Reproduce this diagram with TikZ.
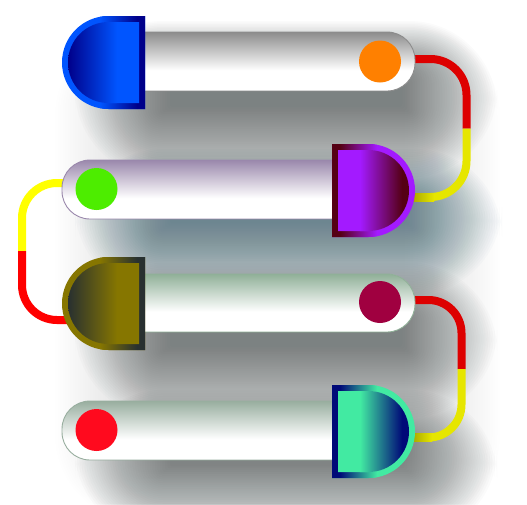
\documentclass[tikz,border=0pt]{standalone}
\definecolor{shA}{RGB}{72,82,82}
\definecolor{shB}{RGB}{40,88,104}
\definecolor{barA}{RGB}{140,140,140}
\definecolor{barB}{RGB}{154,136,172}
\definecolor{barC}{RGB}{144,176,152}
\definecolor{barD}{RGB}{152,174,159}
\definecolor{dBlueF}{RGB}{0,85,255}
\definecolor{dBlueC}{RGB}{0,0,138}
\definecolor{dPurF}{RGB}{163,26,255}
\definecolor{dPurC}{RGB}{85,0,20}
\definecolor{dOliF}{RGB}{134,118,0}
\definecolor{dOliC}{RGB}{40,48,48}
\definecolor{dTeaF}{RGB}{66,234,162}
\definecolor{dTeaC}{RGB}{0,10,120}
\definecolor{lnRedA}{RGB}{221,0,0}
\definecolor{lnYelA}{RGB}{230,230,0}
\definecolor{lnOli}{RGB}{170,170,0}
\definecolor{lnRedB}{RGB}{255,0,0}
\definecolor{lnYelB}{RGB}{255,255,0}
\definecolor{cOrange}{RGB}{255,128,0}
\definecolor{cGreen}{RGB}{77,237,0}
\definecolor{cMaroon}{RGB}{160,0,64}
\definecolor{cRed}{RGB}{255,10,30}
\newcommand{\myrowshadow}[6]{%
  \foreach \r in {-25,-22.5,...,70}{%
    \fill[#5, opacity=#6, rounded corners={max(2,\r+18)}] ({#1-\r},{#2-0.6*\r}) rectangle ({#3+\r},{#4+0.75*\r});
  }}
\newcommand{\mybar}[5]{%
  \begin{scope}
    \clip[rounded corners=28] (#1,#2) rectangle (#3,#4);
    \fill[white] (#1,#2) rectangle (#3,#4);
    \shade[top color=#5, bottom color=white] (#1,#2) rectangle (#3,{#2+0.65*(#4-#2)});
  \end{scope}
  \draw[#5, line width=0.9, rounded corners=28] (#1,#2) rectangle (#3,#4);}
\tikzset{
  link/.style={line width=8},
  dot/.style={circle, minimum size=42, inner sep=0pt, draw=none}
}
\begin{document}
\begin{tikzpicture}[x=1pt,y=-1pt]
\useasboundingbox (0,0) rectangle (527,504);
\fill[white] (0,0) rectangle (527,504);
% soft shadows
\myrowshadow{125}{70}{430}{470}{shA}{0.005}
\myrowshadow{145}{63}{427}{125}{shA}{0.019}
\myrowshadow{145}{191}{432}{242}{shB}{0.019}
\myrowshadow{145}{305}{427}{365}{shA}{0.019}
\myrowshadow{145}{432}{427}{485}{shA}{0.019}
% connector coordinates
\coordinate (p1s) at (405,59);
\coordinate (p1a) at (466.5,59);
\coordinate (p1m) at (466.5,128.5);
\coordinate (p1b) at (466.5,197);
\coordinate (p1e) at (405,197);
\coordinate (p2s) at (72,183);
\coordinate (p2a) at (22,183);
\coordinate (p2m) at (22,251);
\coordinate (p2b) at (22,320);
\coordinate (p2e) at (75,320);
\coordinate (p3s) at (405,300);
\coordinate (p3a) at (461.5,300);
\coordinate (p3m) at (461.5,369);
\coordinate (p3b) at (461.5,437.5);
\coordinate (p3e) at (405,437.5);
\draw[link, lnRedA, rounded corners=36] (p1s) -- (p1a) -- (p1m);
\draw[link, lnYelA, rounded corners=36] (p1m) -- (p1b) -- (p1e);
\shade[left color=lnOli, right color=lnYelA] (413,193) rectangle (434,201);
\draw[link, lnYelB, rounded corners=35] (p2s) -- (p2a) -- (p2m);
\draw[link, lnRedB, rounded corners=35] (p2m) -- (p2b) -- (p2e);
\draw[link, lnRedA, rounded corners=33] (p3s) -- (p3a) -- (p3m);
\draw[link, lnYelA, rounded corners=33] (p3m) -- (p3b) -- (p3e);
\shade[left color=lnOli, right color=lnYelA] (413,433.5) rectangle (432,441.5);
% bars
\mybar{110}{32}{415}{91}{barA}
\mybar{62}{160}{360}{219}{barB}
\mybar{110}{274}{415}{332}{barC}
\mybar{62}{401}{360}{460}{barD}
% dots
\node[dot, fill=cOrange] (c1) at (380,61.5) {};
\node[dot, fill=cGreen] (c2) at (96.5,189) {};
\node[dot, fill=cMaroon] (c3) at (380,302) {};
\node[dot, fill=cRed] (c4) at (96.5,430) {};
% D1 (flat right)
\begin{scope}
\clip[rounded corners=46.5] (145,16) -- (62,16) -- (62,109) -- (145,109);
\fill[dBlueF] (60,14) rectangle (147,111);
\shade[left color=dBlueF, right color=dBlueC] (100,14) rectangle (137,111);
\fill[dBlueC] (137,14) rectangle (147,111);
\end{scope}
\begin{scope}
\clip[rounded corners=40.5] (139,22) -- (68,22) -- (68,103) -- (139,103);
\fill[dBlueF] (66,20) rectangle (141,105);
\shade[left color=dBlueC, right color=dBlueF] (68,20) rectangle (117,105);
\end{scope}
% D3 (flat right)
\begin{scope}
\clip[rounded corners=46.5] (145,257) -- (62,257) -- (62,350) -- (145,350);
\fill[dOliF] (60,255) rectangle (147,352);
\shade[left color=dOliF, right color=dOliC] (100,255) rectangle (137,352);
\fill[dOliC] (137,255) rectangle (147,352);
\end{scope}
\begin{scope}
\clip[rounded corners=40.5] (139,263) -- (68,263) -- (68,344) -- (139,344);
\fill[dOliF] (66,261) rectangle (141,346);
\shade[left color=dOliC, right color=dOliF] (68,261) rectangle (117,346);
\end{scope}
% D2 (flat left)
\begin{scope}
\clip[rounded corners=46.5] (332,144) -- (415,144) -- (415,237) -- (332,237);
\fill[dPurF] (330,142) rectangle (417,239);
\shade[left color=dPurC, right color=dPurF] (340,142) rectangle (377,239);
\fill[dPurC] (330,142) rectangle (340,239);
\end{scope}
\begin{scope}
\clip[rounded corners=40.5] (338,150) -- (409,150) -- (409,231) -- (338,231);
\fill[dPurF] (336,148) rectangle (411,233);
\shade[left color=dPurF, right color=dPurC] (360,148) rectangle (402,233);
\fill[dPurC] (402,148) rectangle (411,233);
\end{scope}
% D4 (flat left)
\begin{scope}
\clip[rounded corners=46.5] (332,385) -- (415,385) -- (415,478) -- (332,478);
\fill[dTeaF] (330,383) rectangle (417,480);
\shade[left color=dTeaC, right color=dTeaF] (340,383) rectangle (377,480);
\fill[dTeaC] (330,383) rectangle (340,480);
\end{scope}
\begin{scope}
\clip[rounded corners=40.5] (338,391) -- (409,391) -- (409,472) -- (338,472);
\fill[dTeaF] (336,389) rectangle (411,474);
\shade[left color=dTeaF, right color=dTeaC] (360,389) rectangle (402,474);
\fill[dTeaC] (402,389) rectangle (411,474);
\end{scope}
\end{tikzpicture}
\end{document}
